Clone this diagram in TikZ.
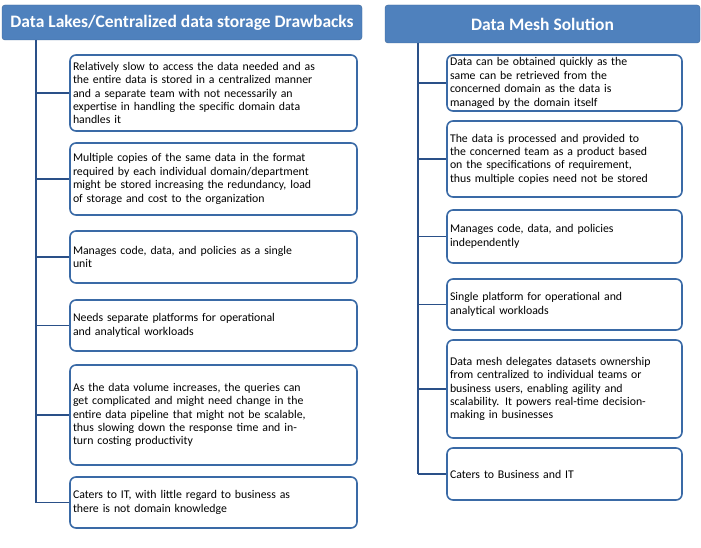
\documentclass[tikz,border=0pt]{standalone}
\usepackage{fontspec}
\setmainfont{Carlito}
\begin{document}
\begin{tikzpicture}[x=1pt,y=-1pt,
  hdr/.style={draw=hdrblue!80!black,fill=hdrblue,rounded corners=3pt,text=white,font=\fontsize{17.5}{20}\selectfont\bfseries,inner sep=0pt},
  item/.style={draw=boxblue,line width=1.6pt,rounded corners=6pt,fill=white,align=left,inner sep=2pt,font=\fontsize{11.8}{13.4}\selectfont},
  conn/.style={draw=linecol,line width=1.6pt}]
\definecolor{hdrblue}{HTML}{4F81BD}
\definecolor{boxblue}{HTML}{3A6AA6}
\definecolor{linecol}{HTML}{2A5088}
\useasboundingbox (0,0) rectangle (701,548);
\node[hdr,minimum width=360,minimum height=35] (lh) at (182,22.5) {Data Lakes/Centralized data storage Drawbacks};
\node[hdr,minimum width=315,minimum height=38] (rh) at (542.5,24) {Data Mesh Solution};
\coordinate (lt) at (36,40); \coordinate (lb) at (36,502.5);
\coordinate (rt) at (418,43); \coordinate (rb) at (418,474);
\draw[conn] (lt) -- (lb);
\draw[conn] (rt) -- (rb);
\foreach \n/\y/\h/\t in {
 l1/93/76/{Relatively slow to access the data needed and as\\the entire data is stored in a centralized manner\\and a separate team with not necessarily an\\expertise in handling the specific domain data\\handles it},
 l2/179/72/{Multiple copies of the same data in the format\\required by each individual domain/department\\might be stored increasing the redundancy, load\\of storage and cost to the organization},
 l3/257/52/{Manages code, data, and policies as a single\\unit},
 l4/325.5/51/{Needs separate platforms for operational\\and analytical workloads},
 l5/415/100/{As the data volume increases, the queries can\\get complicated and might need change in the\\entire data pipeline that might not be scalable,\\thus slowing down the response time and in-\\turn costing productivity},
 l6/502.5/51/{Caters to IT, with little regard to business as\\there is not domain knowledge}}{
 \node[item,minimum width=287,minimum height=\h,text width=281] (\n) at (213.5,\y) {\t};
 \coordinate (\n c) at (36,\y);
 \draw[conn] (\n c) -- (\n.west);
}
\foreach \n/\y/\h/\t in {
 r1/83/56/{Data can be obtained quickly as the\\same can be retrieved from the\\concerned domain as the data is\\managed by the domain itself},
 r2/159/76/{The data is processed and provided to\\the concerned team as a product based\\on the specifications of requirement,\\thus multiple copies need not be stored},
 r3/236.5/53/{Manages code, data, and policies\\independently},
 r4/304.5/51/{Single platform for operational and\\analytical workloads},
 r5/389/98/{Data mesh delegates datasets ownership\\from centralized to individual teams or\\business users, enabling agility and\\scalability. It powers real-time decision-\\making in businesses},
 r6/474/52/{Caters to Business and IT}}{
 \node[item,minimum width=235,minimum height=\h,text width=229] (\n) at (564.5,\y) {\t};
 \coordinate (\n c) at (418,\y);
 \draw[conn] (\n c) -- (\n.west);
}
\end{tikzpicture}
\end{document}
